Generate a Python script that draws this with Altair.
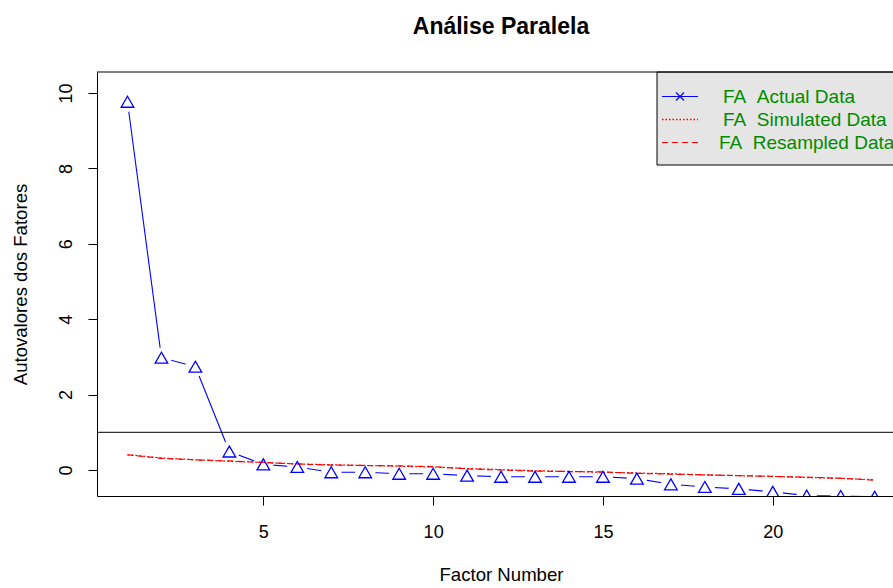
import altair as alt
import pandas as pd

# Parallel analysis: eigenvalues of the factors against simulated / resampled data
factor_number = list(range(1, 24))
fa_actual = [9.77, 2.98, 2.74, 0.49, 0.15, 0.08, -0.06, -0.06, -0.10, -0.10,
             -0.15, -0.18, -0.18, -0.18, -0.18, -0.23, -0.38, -0.45, -0.50,
             -0.58, -0.68, -0.69, -0.71]
fa_simulated = [0.41, 0.32, 0.27, 0.23, 0.20, 0.16, 0.14, 0.12, 0.10, 0.08,
                0.04, 0.01, -0.02, -0.04, -0.06, -0.08, -0.10, -0.13, -0.15,
                -0.17, -0.20, -0.22, -0.26]
fa_resampled = [0.40, 0.31, 0.27, 0.24, 0.20, 0.16, 0.13, 0.12, 0.11, 0.09,
                0.03, 0.00, -0.03, -0.04, -0.05, -0.09, -0.11, -0.13, -0.15,
                -0.17, -0.19, -0.22, -0.27]
kaiser_line = [1]

x_ticks = [5, 10, 15, 20]
y_ticks = [0, 2, 4, 6, 8, 10]

chart_title = "Análise Paralela"
x_title = "Factor Number"
y_title = "Autovalores dos Fatores"
legend_labels = ["FA\u00a0\u00a0Actual Data", "FA\u00a0\u00a0Simulated Data",
                 "FA\u00a0\u00a0Resampled Data"]

BLUE = "#0000FF"
RED = "#FF0000"
GREEN4 = "#008B00"
FONT = "Liberation Sans"

W, H = 796, 424

df = pd.DataFrame({
    "factor": factor_number,
    "actual": fa_actual,
    "simulated": fa_simulated,
    "resampled": fa_resampled,
})

x_scale = alt.Scale(domain=[0.103, 23.54], nice=False, zero=False)
y_scale = alt.Scale(domain=[-0.69, 10.56], nice=False, zero=False)

x_axis = alt.Axis(values=x_ticks, title=x_title, grid=False, tickSize=9,
                  labelPadding=18, labelFontSize=18, titleFontSize=18.6,
                  labelFont=FONT, titleFont=FONT, titleFontWeight="normal",
                  labelColor="#000", titleColor="#000", domainColor="#000",
                  tickColor="#000", labelFlush=False, labelBaseline="top",
                  titleX=404, titleY=84, titleBaseline="alphabetic",
                  titleAlign="center")
y_axis = alt.Axis(values=y_ticks, title=y_title, grid=False, tickSize=9,
                  labelPadding=17, labelFontSize=18, titleFontSize=18.6,
                  labelFont=FONT, titleFont=FONT, titleFontWeight="normal",
                  labelColor="#000", titleColor="#000", domainColor="#000",
                  tickColor="#000", labelAngle=270, labelAlign="center",
                  labelBaseline="alphabetic", titleAngle=270,
                  titleX=-77, titleY=212, titleAlign="center",
                  titleBaseline="middle")

base = alt.Chart(df)
x_enc = alt.X("factor:Q", scale=x_scale, axis=x_axis)

# actual data line (type "b": line broken around each point)
actual_line = base.mark_line(color=BLUE, strokeWidth=1.1, clip=True).encode(
    x=x_enc, y=alt.Y("actual:Q", scale=y_scale, axis=y_axis))
gap = base.mark_point(shape="circle", filled=True, color="white", opacity=1,
                      size=415, clip=True).encode(
    x=alt.X("factor:Q", scale=x_scale), y=alt.Y("actual:Q", scale=y_scale))

simulated_line = base.mark_line(color=RED, strokeWidth=1.2, strokeDash=[2, 2],
                                clip=True).encode(
    x=alt.X("factor:Q", scale=x_scale), y=alt.Y("simulated:Q", scale=y_scale))
resampled_line = base.mark_line(color=RED, strokeWidth=1.2, strokeDash=[6, 4],
                                clip=True).encode(
    x=alt.X("factor:Q", scale=x_scale), y=alt.Y("resampled:Q", scale=y_scale))

hline = alt.Chart(pd.DataFrame({"h": kaiser_line})).mark_rule(
    color="#000", strokeWidth=1, clip=True).encode(
    y=alt.Y("h:Q", scale=y_scale))

triangles = base.mark_point(shape="triangle-up", filled=False, color=BLUE,
                            size=160, strokeWidth=1.3, opacity=1,
                            clip=True).encode(
    x=alt.X("factor:Q", scale=x_scale), y=alt.Y("actual:Q", scale=y_scale))

# top edge of the plot box
top_edge = alt.Chart(pd.DataFrame({"k": [0]})).mark_rule(
    color="#000", strokeWidth=1).encode(
    x=alt.value(0), x2=alt.value(W), y=alt.value(0))

# legend (top right): box, line samples, marker and labels
legend_box = alt.Chart(pd.DataFrame({"k": [0]})).mark_rect(
    fill="#E5E5E5", stroke="#000", strokeWidth=1).encode(
    x=alt.value(560), x2=alt.value(W + 20), y=alt.value(0), y2=alt.value(93))

row_y = [24.5, 47.5, 70.5]
row_x = [626, 626, 622]

sample_actual = alt.Chart(pd.DataFrame({"k": [0]})).mark_rule(
    color=BLUE, strokeWidth=1.1).encode(
    x=alt.value(565), x2=alt.value(601), y=alt.value(row_y[0]))
sample_simulated = alt.Chart(pd.DataFrame({"k": [1]})).mark_rule(
    color=RED, strokeWidth=1.4, strokeDash=[1.5, 2], strokeOpacity=1).encode(
    x=alt.value(565), x2=alt.value(601), y=alt.value(row_y[1]))
sample_resampled = alt.Chart(pd.DataFrame({"k": [2]})).mark_rule(
    color=RED, strokeWidth=1.2, strokeDash=[6, 4]).encode(
    x=alt.value(565), x2=alt.value(601), y=alt.value(row_y[2]))
sample_marker = alt.Chart(pd.DataFrame({"k": [3]})).mark_point(
    shape="M-1,-1L1,1M-1,1L1,-1", filled=False, color=BLUE, size=64,
    strokeWidth=1.1, opacity=1).encode(
    x=alt.value(583), y=alt.value(row_y[0]))

legend_layers = [legend_box, sample_actual, sample_simulated, sample_resampled,
                 sample_marker]
for i, label in enumerate(legend_labels):
    row = pd.DataFrame({"label": [label]})
    legend_layers.append(
        alt.Chart(row).mark_text(align="left", baseline="middle", fontSize=19,
                                 font=FONT, color=GREEN4).encode(
            x=alt.value(row_x[i]), y=alt.value(row_y[i]), text="label:N"))

title = alt.Chart(pd.DataFrame({"t": [chart_title]})).mark_text(
    fontSize=23, fontWeight="bold", font=FONT, color="#000",
    align="center", baseline="middle").encode(
    x=alt.value(404), y=alt.value(-45), text="t:N")

chart = alt.layer(
    actual_line, gap, simulated_line, resampled_line, hline, triangles,
    *legend_layers, top_edge, title
).properties(
    width=W, height=H,
    padding={"left": 97, "top": 72, "right": 0, "bottom": 92},
    autosize=alt.AutoSizeParams(type="none"),
).configure_view(stroke=None)

chart.save("out.html", embed_options={"renderer": "svg", "actions": False})
